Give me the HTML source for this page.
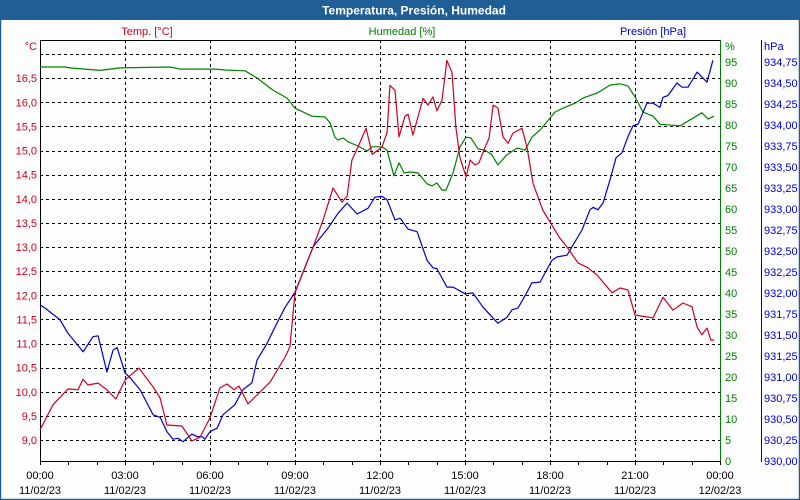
<!DOCTYPE html>
<html><head><meta charset="utf-8">
<style>
html,body{margin:0;padding:0;width:800px;height:500px;overflow:hidden;background:#fff;}
svg{display:block;font-family:"Liberation Sans","DejaVu Sans",sans-serif;}
</style></head>
<body>
<svg id="chart" width="800" height="500" viewBox="0 0 800 500" xmlns="http://www.w3.org/2000/svg">
<rect x="0.5" y="0.5" width="799" height="499" fill="#fdfdfd" stroke="#1f5f96" stroke-width="1.5"/>
<rect x="0" y="0" width="800" height="20" fill="#1f5f96"/>
<text x="414" y="14.5" fill="#fff" font-size="12" font-weight="bold" text-anchor="middle">Temperatura, Presión, Humedad</text>
<text x="147" y="35" fill="#d00020" font-size="11" text-anchor="middle">Temp. [°C]</text>
<text x="402" y="35" fill="#008000" font-size="11" text-anchor="middle">Humedad [%]</text>
<text x="653" y="35" fill="#0000cc" font-size="11" text-anchor="middle">Presión [hPa]</text>
<text x="37" y="50" fill="#d00020" font-size="11" text-anchor="end">°C</text>
<text x="725" y="50" fill="#008000" font-size="11">%</text>
<text x="764" y="50" fill="#0000cc" font-size="11">hPa</text>
<g id="grid"></g>
<g id="axes"></g>
<g id="series"></g>
</svg>
<script>
const tempTimes=[0,.46,.99,1.34,1.52,1.69,2.05,2.36,2.68,3.0,3.49,3.99,4.24,4.48,5.01,5.36,5.65,6.0,6.35,6.6,6.85,7.02,7.34,7.76,8.12,8.65,8.82,9.0,9.64,9.99,10.34,10.66,10.84,11.01,11.22,11.51,11.72,12.07,12.25,12.35,12.53,12.67,12.88,12.99,13.16,13.52,13.69,13.87,14.01,14.19,14.36,14.54,14.68,14.82,15.04,15.18,15.35,15.49,15.71,15.85,15.99,16.16,16.34,16.52,16.69,17.01,17.19,17.4,17.75,18.0,18.35,18.6,18.99,19.31,19.66,20.19,20.47,20.75,21.0,21.64,21.99,22.34,22.69,23.01,23.19,23.36,23.54,23.68,23.79];
const tempValues=[9.21,9.73,10.06,10.04,10.26,10.14,10.18,10.04,9.85,10.24,10.49,10.10,9.87,9.31,9.29,8.98,9.06,9.46,10.08,10.16,10.04,10.12,9.75,9.99,10.20,10.72,10.93,12.05,13.0,13.56,14.22,13.93,14.05,14.8,15.07,15.46,14.92,15.07,15.38,16.35,16.25,15.28,15.71,15.75,15.32,16.08,15.94,16.11,15.82,16.04,16.87,16.62,15.48,14.86,14.45,14.8,14.7,14.74,15.07,15.26,15.94,15.88,15.28,15.15,15.36,15.46,15.07,14.32,13.76,13.52,13.18,13.0,12.67,12.58,12.42,12.05,12.15,12.11,11.59,11.53,11.96,11.69,11.84,11.76,11.34,11.18,11.32,11.07,11.07];
const humTimes=[0,.88,1.06,2.12,2.82,4.59,4.94,6.18,6.53,7.24,7.66,8.22,8.72,9.0,9.6,10.06,10.24,10.41,10.52,10.69,10.87,11.22,11.54,11.72,12.07,12.25,12.49,12.67,12.85,13.06,13.34,13.66,13.84,14.01,14.19,14.33,14.58,14.82,15.04,15.21,15.46,15.71,15.95,16.16,16.48,16.84,17.12,17.36,17.65,18.18,18.46,18.88,19.16,19.66,20.12,20.47,20.75,21.0,21.28,21.64,21.88,22.59,23.36,23.58,23.79];
const humValues=[93.8,93.8,93.6,93.0,93.6,93.8,93.3,93.3,93.1,92.9,91.2,88.3,86.4,84.0,82.1,81.9,80.5,77.1,76.4,76.9,76.0,75.0,73.8,74.8,74.8,74.0,67.9,71.0,68.6,68.8,68.6,66.0,65.5,66.2,64.5,64.5,68.6,74.8,77.1,76.9,74.3,74.0,72.9,70.5,72.9,74.5,74.0,77.1,78.8,83.1,84.0,85.2,86.4,87.6,89.5,89.8,89.3,86.7,83.1,82.1,80.2,79.8,82.9,81.4,82.1];
const presTimes=[0,.18,.71,.99,1.52,1.87,2.05,2.36,2.58,2.72,3.0,3.18,3.53,3.99,4.24,4.48,4.69,4.87,5.05,5.36,5.54,5.72,5.82,6.0,6.25,6.46,6.88,7.16,7.48,7.66,8.01,8.36,8.65,9.0,9.64,10.16,10.52,10.84,11.19,11.58,11.82,12.07,12.25,12.53,12.71,12.99,13.31,13.66,13.87,14.01,14.36,14.58,15.0,15.28,15.64,15.99,16.16,16.48,16.66,16.87,17.19,17.36,17.65,18.07,18.25,18.6,19.13,19.41,19.52,19.69,19.87,20.12,20.33,20.54,20.75,20.93,21.11,21.42,21.64,21.88,21.99,22.16,22.48,22.66,22.87,23.19,23.54,23.75];
const presValues=[931.86,931.82,931.68,931.52,931.30,931.48,931.49,931.06,931.32,931.35,931.05,930.99,930.85,930.55,930.52,930.35,930.26,930.27,930.23,930.32,930.29,930.29,930.26,930.35,930.39,930.55,930.67,930.85,930.93,931.20,931.40,931.64,931.83,932.01,932.55,932.77,932.95,933.07,932.94,933.01,933.14,933.15,933.11,932.87,932.89,932.76,932.73,932.39,932.30,932.29,932.07,932.07,931.99,932.00,931.83,931.70,931.64,931.71,931.80,931.82,932.01,932.12,932.13,932.39,932.43,932.45,932.75,932.99,933.02,932.99,933.07,933.35,933.61,933.67,933.86,933.99,934.01,934.26,934.26,934.21,934.33,934.35,934.50,934.45,934.45,934.63,934.51,934.77];
const tempTicks=["9,0","9,5","10,0","10,5","11,0","11,5","12,0","12,5","13,0","13,5","14,0","14,5","15,0","15,5","16,0","16,5"];
const humTicks=["0","5","10","15","20","25","30","35","40","45","50","55","60","65","70","75","80","85","90","95"];
const presTicks=["930,00","930,25","930,50","930,75","931,00","931,25","931,50","931,75","932,00","932,25","932,50","932,75","933,00","933,25","933,50","933,75","934,00","934,25","934,50","934,75"];
const timeTicks=["00:00","03:00","06:00","09:00","12:00","15:00","18:00","21:00","00:00"];
const dateTicks=["11/02/23","11/02/23","11/02/23","11/02/23","11/02/23","11/02/23","11/02/23","11/02/23","12/02/23"];

const L=40,R=720,T=40,B=461;
const xOf=h=>L+h*(R-L)/24;
const yTemp=t=>440-(t-9)*48.25;
const yHum=v=>B-v*4.2;
const yPres=p=>B-(p-930)*84;
const NS="http://www.w3.org/2000/svg";
function mk(tag,attrs,parent){const e=document.createElementNS(NS,tag);for(const k in attrs)e.setAttribute(k,attrs[k]);parent.appendChild(e);return e;}
const grid=document.getElementById('grid'),axes=document.getElementById('axes'),series=document.getElementById('series');

for(let k=0;k<=16;k++){
  const y=Math.round(yTemp(9+k*0.5-0.5*0)+0)+0.5;
  const yy=Math.round(440-k*24.125)+0.5;
  const g=mk('line',{x1:L,x2:R,y1:yy,y2:yy,stroke:'#000','stroke-dasharray':'3,3','stroke-width':1},grid);
  
  
}
for(let i=1;i<8;i++){
  const x=Math.round(xOf(i*3))+0.5;
  const g=mk('line',{x1:x,x2:x,y1:T,y2:B,stroke:'#000','stroke-dasharray':'3,3','stroke-width':1},grid);
  
  
}
let a;
a=mk('line',{x1:L+.5,x2:L+.5,y1:T,y2:B+1,stroke:'#000'},axes);


a=mk('line',{x1:L,x2:R,y1:T+.5,y2:T+.5,stroke:'#000'},axes);


a=mk('line',{x1:L,x2:R,y1:B+.5,y2:B+.5,stroke:'#000'},axes);


a=mk('line',{x1:R+.5,x2:R+.5,y1:T,y2:B+1,stroke:'#008000'},axes);


a=mk('line',{x1:761.5,x2:761.5,y1:T,y2:B+1,stroke:'#0000cc'},axes);



tempTicks.forEach((s,k)=>{
  const t=mk('text',{x:37,y:440-k*24.125+4,fill:'#d00020','font-size':11,'text-anchor':'end'},axes);
  t.textContent=s;
  
  
});
humTicks.forEach((s,k)=>{
  const t=mk('text',{x:725,y:yHum(k*5)+4,fill:'#008000','font-size':11},axes);
  t.textContent=s;
  
  
});
presTicks.forEach((s,k)=>{
  const t=mk('text',{x:764,y:yPres(930+k*0.25)+4,fill:'#0000cc','font-size':11},axes);
  t.textContent=s;
  
  
});
for(let h=0;h<=24;h++){
  const x=Math.round(xOf(h))+0.5;
  const tk=mk('line',{x1:x,x2:x,y1:B,y2:B+4,stroke:'#000'},axes);
  
  
}
timeTicks.forEach((s,i)=>{
  const x=xOf(i*3);
  const t=mk('text',{x:x,y:479,fill:'#000','font-size':11,'text-anchor':'middle'},axes);
  t.textContent=s;
  
  
  const d=mk('text',{x:x,y:494,fill:'#000','font-size':11,'text-anchor':'middle'},axes);
  d.textContent=dateTicks[i];
  
  
});
function line(ts,vs,yf,color){
  return mk('polyline',{points:ts.map((t,i)=>xOf(t).toFixed(1)+','+yf(vs[i]).toFixed(1)).join(' '),fill:'none',stroke:color,'stroke-width':1.2,'stroke-linejoin':'round'},series);
}
let s;
s=line(humTimes,humValues,yHum,'#008000');


s=line(presTimes,presValues,yPres,'#0000cc');


s=line(tempTimes,tempValues,yTemp,'#d00020');


</script>
</body></html>
